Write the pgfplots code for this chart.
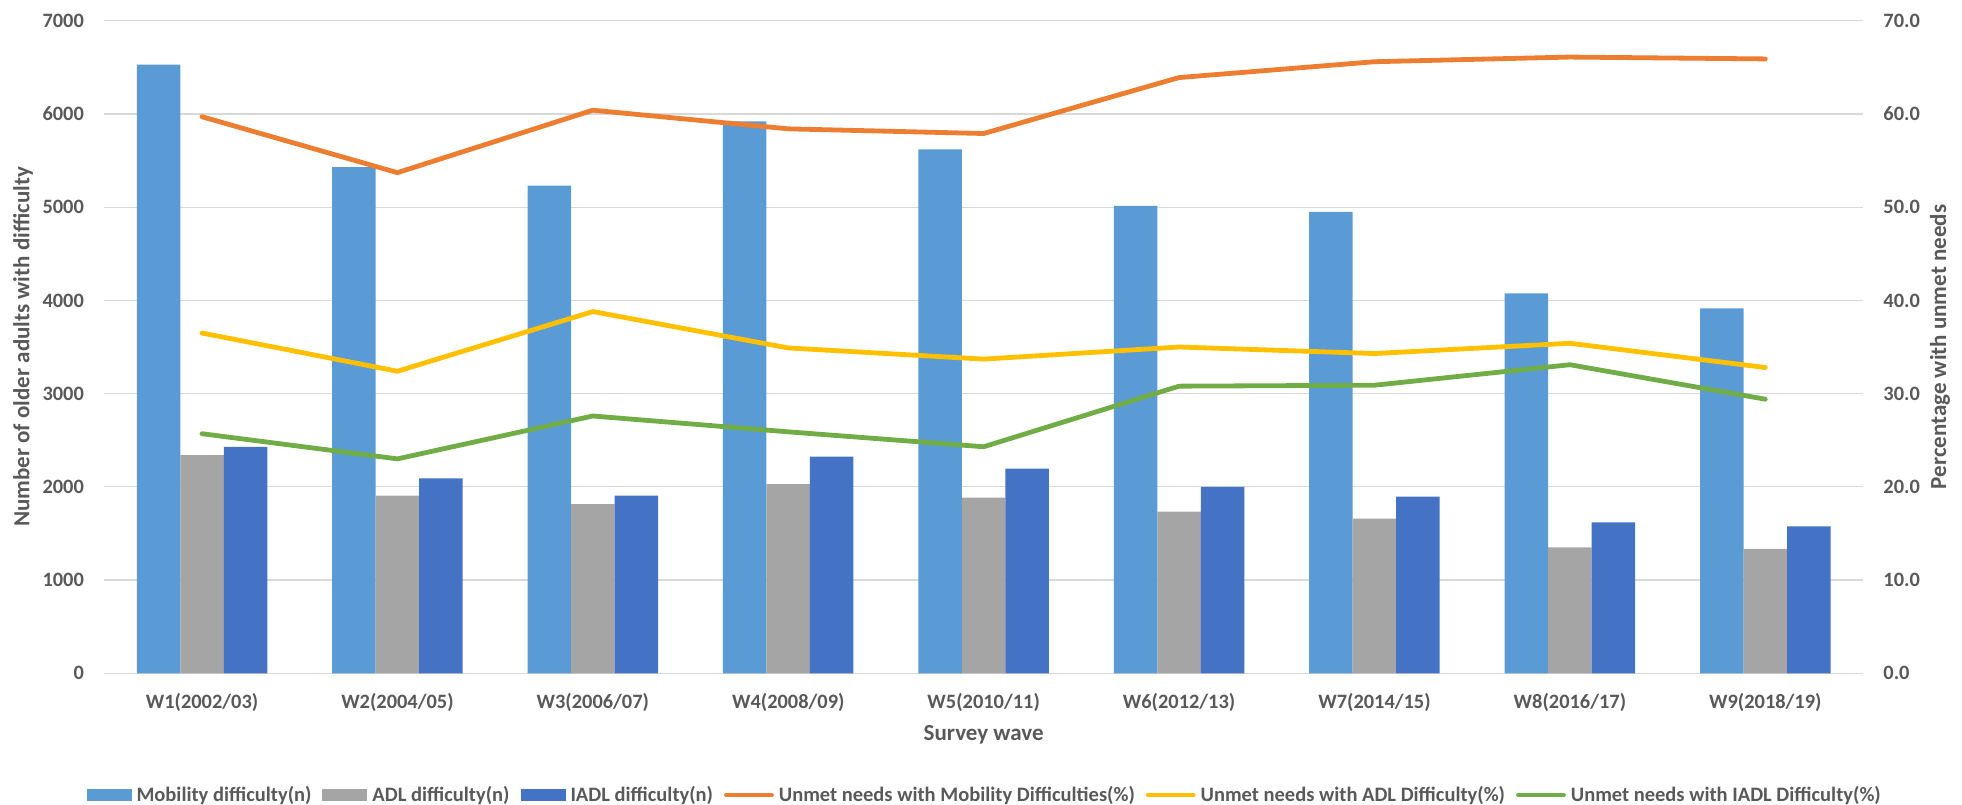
\documentclass[border=0pt]{standalone}
\usepackage{fontspec}
\setmainfont{Carlito}
\usepackage{pgfplots}
\pgfplotsset{compat=1.18}

\definecolor{cMob}{HTML}{5B9BD5}
\definecolor{cADL}{HTML}{A5A5A5}
\definecolor{cIADL}{HTML}{4472C4}
\definecolor{uMob}{HTML}{ED7D31}
\definecolor{uADL}{HTML}{FFC000}
\definecolor{uIADL}{HTML}{70AD47}
\definecolor{txt}{HTML}{595959}
\definecolor{gridc}{HTML}{D9D9D9}

\newcommand{\tickfont}{\bfseries\fontsize{10.2}{12}\selectfont}
\newcommand{\titlefont}{\bfseries\fontsize{11.5}{13}\selectfont}
\newcommand{\legfont}{\bfseries\fontsize{10.25}{12}\selectfont}

\pgfplotsset{
  base/.style={
    scale only axis, width=879.35pt, height=326.3pt,
    at={(52.15pt,65.35pt)}, anchor=south west,
    xmin=0.5, xmax=9.5, ymin=0,
    axis line style={draw=none}, tick style={draw=none},
    /pgf/number format/assume math mode=true,
    tick label style={font=\tickfont, text=txt, inner sep=0pt},
  },
  barleg/.style={legend image code/.code={\fill[##1] (0pt,-3pt) rectangle (22.5pt,3pt);}},
  lineleg/.style={legend image code/.code={\draw[##1, line cap=round] (0pt,0pt) -- (22.5pt,0pt);}},
}

% counts of older adults with each difficulty, per survey wave
\pgfplotstableread{
x mob adl iadl
1 6530 2340 2430
2 5430 1905 2090
3 5230 1815 1905
4 5920 2030 2325
5 5620 1885 2195
6 5015 1735 2000
7 4950 1660 1895
8 4075 1350 1620
9 3915 1335 1575
}\counts

% percentage with unmet needs
\pgfplotstableread{
x mob adl iadl
1 59.7 36.5 25.7
2 53.7 32.4 23.0
3 60.4 38.8 27.6
4 58.4 34.9 25.9
5 57.9 33.7 24.3
6 63.9 35.0 30.8
7 65.6 34.3 30.9
8 66.1 35.4 33.1
9 65.9 32.8 29.4
}\unmet

\begin{document}
\begin{tikzpicture}
\path[use as bounding box] (0,0) rectangle (981pt,402pt);

\begin{axis}[base,
  ymax=7000, ytick={0,1000,...,7000},
  ymajorgrids, grid style={gridc, line width=0.6pt},
  yticklabel style={anchor=east, xshift=-10pt, /pgf/number format/1000 sep={}},
  xtick={1,...,9},
  xticklabels={W1(2002/03),W2(2004/05),W3(2006/07),W4(2008/09),W5(2010/11),W6(2012/13),W7(2014/15),W8(2016/17),W9(2018/19)},
  xticklabel style={anchor=north, yshift=-9.7pt},
  ylabel={Number of older adults with difficulty},
  every axis y label/.style={at={(axis description cs:0,0.5)}, xshift=-40.6pt, anchor=center, rotate=90, font=\titlefont, text=txt},
  xlabel={Survey wave},
  every axis x label/.style={at={(axis description cs:0.5,0)}, anchor=north, yshift=-25.85pt, inner sep=0pt, font=\titlefont, text=txt},
]
\addplot[ybar, bar width=0.2226, bar shift=-0.2226, fill=cMob, draw=none] table[x=x, y=mob] {\counts};
\addplot[ybar, bar width=0.2226, bar shift=0, fill=cADL, draw=none] table[x=x, y=adl] {\counts};
\addplot[ybar, bar width=0.2226, bar shift=0.2226, fill=cIADL, draw=none] table[x=x, y=iadl] {\counts};
\end{axis}

\begin{axis}[base,
  ymax=70, ytick={0,10,...,70}, xtick=\empty,
  yticklabel pos=right,
  yticklabel style={anchor=west, xshift=10pt, /pgf/number format/fixed, /pgf/number format/fixed zerofill, /pgf/number format/precision=1},
  ylabel={Percentage with unmet needs},
  every axis y label/.style={at={(axis description cs:1,0.5)}, xshift=38.5pt, anchor=center, rotate=90, font=\titlefont, text=txt},
  legend style={at={(axis description cs:0.5,0)}, anchor=center, yshift=-60.85pt,
    draw=none, fill=none, font=\legfont, text=txt, nodes={inner xsep=0pt},
    /tikz/every odd column/.append style={column sep=2.5pt},
    /tikz/every even column/.append style={column sep=5.5pt}},
  legend columns=6,
]
\addlegendimage{barleg, fill=cMob, draw=none}
\addlegendentry{Mobility difficulty(n)}
\addlegendimage{barleg, fill=cADL, draw=none}
\addlegendentry{ADL difficulty(n)}
\addlegendimage{barleg, fill=cIADL, draw=none}
\addlegendentry{IADL difficulty(n)}
\addplot[lineleg, uMob, line width=2.4pt, line join=round, line cap=round] table[x=x, y=mob] {\unmet};
\addlegendentry{Unmet needs with Mobility Difficulties(\%)}
\addplot[lineleg, uADL, line width=2.4pt, line join=round, line cap=round] table[x=x, y=adl] {\unmet};
\addlegendentry{Unmet needs with ADL Difficulty(\%)}
\addplot[lineleg, uIADL, line width=2.4pt, line join=round, line cap=round] table[x=x, y=iadl] {\unmet};
\addlegendentry{Unmet needs with IADL Difficulty(\%)}
\end{axis}
\end{tikzpicture}
\end{document}
